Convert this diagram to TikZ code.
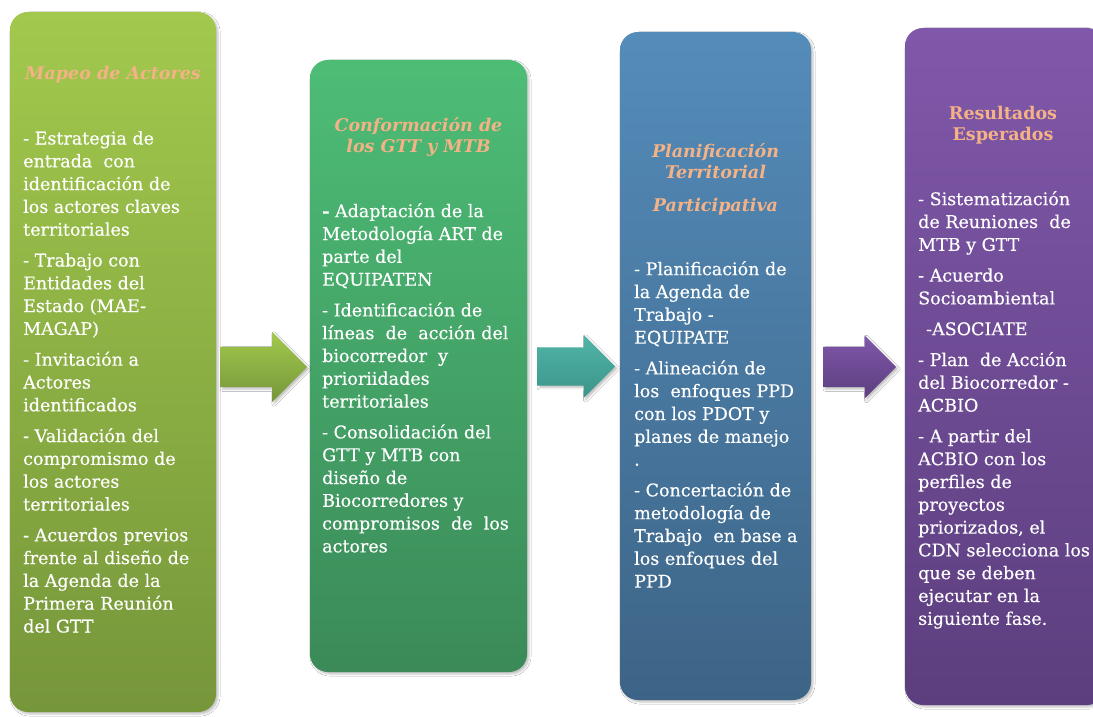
\documentclass[tikz,border=0pt]{standalone}
\usepackage{fontspec}
\setmainfont{DejaVu Serif}
\newfontfamily\bodyfont[FakeBold=0.4]{DejaVu Serif}
\usepackage{tikz}
\usetikzlibrary{positioning}
\usetikzlibrary{shapes.arrows}
\usetikzlibrary{shadows.blur}
\definecolor{titleor}{RGB}{244,178,134}
\definecolor{grnA}{RGB}{162,201,77}
\definecolor{grnB}{RGB}{118,150,58}
\definecolor{emA}{RGB}{77,189,118}
\definecolor{emB}{RGB}{59,138,88}
\definecolor{bluA}{RGB}{84,140,186}
\definecolor{bluB}{RGB}{61,100,134}
\definecolor{purA}{RGB}{128,88,170}
\definecolor{purB}{RGB}{92,62,126}
\definecolor{tealA}{RGB}{80,181,166}
\definecolor{tealB}{RGB}{59,148,138}

\begin{document}
\begin{tikzpicture}[x=1pt,y=-1pt,
  box/.style = {rectangle,rounded corners=18pt,inner sep=0pt,
        blur shadow={shadow xshift=2pt,shadow yshift=-2pt,shadow opacity=25}},
  arr/.style = {single arrow,anchor=tail,single arrow head extend=15pt,inner xsep=0pt,
        inner ysep=20pt,blur shadow={shadow xshift=2pt,shadow yshift=-2pt,shadow opacity=25}},
  head/.style = {align=center,inner sep=0pt,text=titleor,
        font=\fontsize{17.5}{21.5}\selectfont\bfseries\itshape},
  body/.style = {anchor=north west,align=left,inner sep=0pt,text=white,
        font=\bodyfont\fontsize{17.5}{22.8}\selectfont}
]
\useasboundingbox[fill=white] (0,0) rectangle (1093,717);
\clip (0,0) rectangle (1093,717);
% the four stages
\node[box,top color=grnA,bottom color=grnB,minimum width=206pt,minimum height=700pt] (b1) at (113,362) {};
\node[box,top color=emA,bottom color=emB,minimum width=217pt,minimum height=612pt] (b2) at (418.5,366) {};
\node[box,top color=bluA,bottom color=bluB,minimum width=191pt,minimum height=668pt] (b3) at (715.5,366) {};
\node[box,top color=purA,bottom color=purB,minimum width=200pt,minimum height=677pt] (b4) at (1005,366.5) {};
% arrows between them
\node[arr,top color=grnA,bottom color=grnB,minimum height=87pt] (a1) at (220,367) {};
\node[arr,top color=tealA,bottom color=tealB,minimum height=78pt,inner ysep=19pt,single arrow head extend=12.5pt] (a2) at (537,366.5) {};
\node[arr,top color=purA,bottom color=purB,minimum height=73pt,single arrow head extend=11.5pt] (a3) at (823,367) {};
% titles
\node[head] (h1) at (113,75) {Mapeo de Actores};
\node[head] (h2) at (418.5,137) {Conformación de\\los GTT y MTB};
\node[head] (h3) at (715.5,179) {Planificación\\Territorial\\[11pt]Participativa};
\node[head,font=\fontsize{17.5}{21.5}\selectfont\bfseries] (h4) at (1003,125) {Resultados\\Esperados};
% contents
\node[body] (l1) at (23,131) {- Estrategia de\\entrada\ \ con\\identificación de\\los actores claves\\territoriales\\[8pt]
- Trabajo con\\Entidades del\\Estado (MAE-\\MAGAP)\\[8pt]
- Invitación a\\Actores\\identificados\\[8pt]
- Validación del\\compromismo de\\los actores\\territoriales\\[8pt]
- Acuerdos previos\\frente al diseño de\\la Agenda de la\\Primera Reunión\\del GTT};
\node[body] (l2) at (322,203) {\textbf{-} Adaptación de la\\Metodología ART de\\parte del\\EQUIPATEN\\[8pt]
- Identificación de\\líneas\ \ de\ \ acción del\\biocorredor\ \ y\\prioriidades\\territoriales\\[8pt]
- Consolidación del\\GTT y MTB con\\diseño de\\Biocorredores y\\compromisos\ \ de\ \ los\\actores};
\node[body] (l3) at (634,261) {- Planificación de\\la Agenda de\\Trabajo -\\EQUIPATE\\[8pt]
- Alineación de\\los\ \ enfoques PPD\\con los PDOT y\\planes de manejo\\.\\[8pt]
- Concertación de\\metodología de\\Trabajo\ \ en base a\\los enfoques del\\PPD};
\node[body] (l4) at (918,191) {- Sistematización\\de Reuniones\ \ de\\MTB y GTT\\[8pt]
- Acuerdo\\Socioambiental\\[8pt]
\hspace*{8pt}-ASOCIATE\\[8pt]
- Plan\ \ de Acción\\del Biocorredor -\\ACBIO\\[8pt]
- A partir del\\ACBIO con los\\perfiles de\\proyectos\\priorizados, el\\CDN selecciona los\\que se deben\\ejecutar en la\\siguiente fase.};
\end{tikzpicture}
\end{document}
